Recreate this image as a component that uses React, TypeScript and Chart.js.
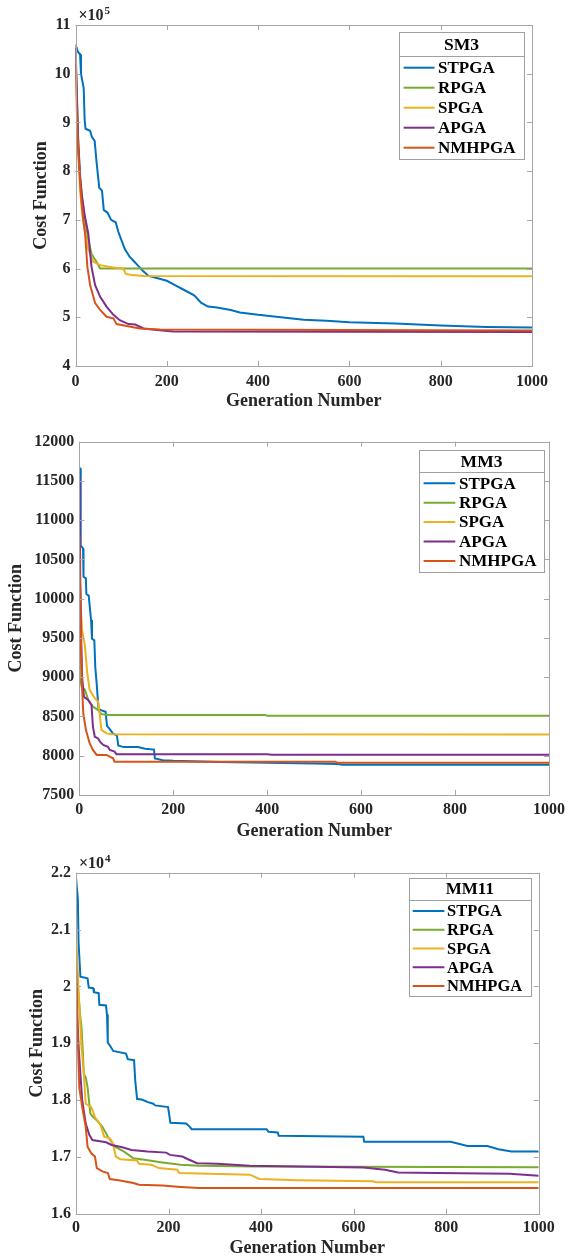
import React, { useEffect, useRef } from "react";
import { Chart, registerables } from "chart.js";

Chart.register(...registerables);

// ---------------- DATA ----------------
const SERIES_NAMES = ["STPGA", "RPGA", "SPGA", "APGA", "NMHPGA"];
const SERIES_COLORS = ["#0072BD", "#77AC30", "#EDB120", "#7E2F8E", "#D95319"];

const X_TICKS_MAX = 1000;
const X_TICK_STEP = 200;

// Panel 1: SM3 (values in raw units, axis shows x10^5)
const SM3_STPGA: [number, number][] = [
  [0, 10.5e5], [3, 10.52e5], [5, 10.45e5], [10, 10.4e5], [12, 10.0e5], [18, 9.7e5], [20, 9.05e5],
  [22, 8.87e5], [32, 8.83e5], [36, 8.7e5], [42, 8.62e5], [46, 8.2e5], [52, 7.66e5], [58, 7.6e5],
  [62, 7.2e5], [70, 7.15e5], [78, 7.0e5], [88, 6.95e5], [94, 6.75e5], [100, 6.6e5], [108, 6.4e5],
  [118, 6.25e5], [128, 6.15e5], [138, 6.05e5], [148, 5.95e5], [160, 5.85e5], [180, 5.8e5],
  [200, 5.75e5], [220, 5.65e5], [240, 5.55e5], [260, 5.45e5], [275, 5.3e5], [290, 5.22e5],
  [310, 5.2e5], [340, 5.15e5], [360, 5.1e5], [400, 5.05e5], [450, 5.0e5], [500, 4.95e5],
  [550, 4.93e5], [600, 4.9e5], [700, 4.87e5], [800, 4.83e5], [900, 4.8e5], [1000, 4.79e5],
];
const SM3_RPGA: [number, number][] = [
  [0, 10.5e5], [3, 9.5e5], [6, 8.6e5], [10, 7.9e5], [15, 7.4e5], [21, 7.0e5], [28, 6.6e5],
  [35, 6.3e5], [46, 6.14e5], [54, 6.0e5], [1000, 6.0e5],
];
const SM3_SPGA: [number, number][] = [
  [0, 10.5e5], [3, 9.3e5], [6, 8.4e5], [10, 7.6e5], [15, 7.1e5], [21, 6.75e5], [28, 6.4e5],
  [39, 6.14e5], [54, 6.07e5], [83, 6.02e5], [105, 6.0e5], [110, 5.89e5], [124, 5.87e5],
  [149, 5.85e5], [1000, 5.84e5],
];
const SM3_APGA: [number, number][] = [
  [0, 10.6e5], [3, 9.6e5], [6, 8.6e5], [10, 7.9e5], [14, 7.5e5], [20, 7.1e5], [28, 6.72e5],
  [35, 6.04e5], [43, 5.66e5], [54, 5.42e5], [68, 5.22e5], [83, 5.05e5], [97, 4.94e5],
  [116, 4.86e5], [131, 4.85e5], [149, 4.77e5], [178, 4.74e5], [214, 4.71e5], [1000, 4.7e5],
];
const SM3_NMHPGA: [number, number][] = [
  [0, 10.2e5], [3, 9.2e5], [6, 8.4e5], [10, 7.8e5], [13, 7.4e5], [17, 7.0e5], [21, 6.72e5],
  [26, 6.04e5], [32, 5.66e5], [43, 5.29e5], [54, 5.15e5], [68, 5.01e5], [83, 4.98e5],
  [90, 4.86e5], [112, 4.82e5], [141, 4.77e5], [185, 4.75e5], [1000, 4.73e5],
];

// Panel 2: MM3
const MM3_STPGA: [number, number][] = [
  [0, 11660], [2, 11660], [3, 10680], [8, 10640], [9, 10280], [14, 10260], [15, 10060],
  [20, 10040], [25, 9730], [27, 9490], [32, 9470], [34, 9130], [37, 8920], [39, 8750],
  [41, 8600], [46, 8580], [56, 8560], [59, 8380], [66, 8330], [72, 8280], [80, 8260],
  [83, 8130], [94, 8110], [125, 8110], [140, 8090], [159, 8078], [161, 7965], [178, 7942],
  [200, 7935], [300, 7920], [500, 7900], [550, 7895], [560, 7885], [1000, 7885],
];
const MM3_RPGA: [number, number][] = [
  [0, 10000], [1, 9000], [5, 8880], [12, 8840], [19, 8710], [29, 8625], [40, 8582],
  [47, 8530], [60, 8520], [395, 8520], [400, 8510], [1000, 8510],
];
const MM3_SPGA: [number, number][] = [
  [0, 10500], [3, 9900], [6, 9600], [10, 9470], [12, 9400], [17, 9050], [22, 8840],
  [33, 8730], [40, 8690], [44, 8500], [47, 8330], [58, 8285], [70, 8275], [1000, 8272],
];
const MM3_APGA: [number, number][] = [
  [0, 11550], [1, 11100], [2, 10300], [4, 9500], [6, 9000], [10, 8750], [19, 8710],
  [26, 8646], [29, 8370], [33, 8242], [40, 8220], [44, 8180], [51, 8137], [61, 8115],
  [65, 8073], [75, 8052], [79, 8020], [400, 8020], [410, 8012], [1000, 8012],
];
const MM3_NMHPGA: [number, number][] = [
  [0, 10800], [2, 10000], [4, 9300], [6, 8850], [8.5, 8540], [14, 8330], [22, 8160],
  [29, 8075], [37, 8010], [58, 8010], [65, 7990], [72, 7967], [75, 7925], [545, 7925],
  [550, 7910], [1000, 7910],
];

// Panel 3: MM11 (raw units, axis shows x10^4)
const MM11_STPGA: [number, number][] = [
  [0, 21913], [2, 21913], [4, 21536], [5.5, 20782], [9.5, 20172], [25, 20143], [27.6, 19981],
  [37, 19970], [38.7, 19900], [49, 19882], [50.5, 19679], [64.7, 19667], [67, 19505],
  [68.7, 19012], [72.6, 18971], [80.5, 18867], [108, 18820], [112, 18722], [125.5, 18704],
  [128, 18344], [132, 18025], [143.6, 18008], [155.5, 17967], [167, 17938], [171, 17909],
  [199, 17880], [204, 17602], [238, 17590], [246, 17532], [250, 17491], [412, 17491],
  [416, 17445], [436, 17433], [438, 17375], [621, 17358], [623, 17271], [810, 17271],
  [846, 17195], [889, 17195], [913, 17137], [941, 17097], [1000, 17097],
];
const MM11_RPGA: [number, number][] = [
  [0, 20600], [5, 19900], [9, 19500], [12, 19273], [15, 18809], [17, 18460], [21, 18402],
  [25, 18228], [31, 17764], [37, 17706], [45, 17648], [57, 17532], [69, 17358], [84, 17184],
  [104, 17097], [124, 16981], [148, 16952], [187, 16905], [226, 16865], [266, 16847],
  [384, 16836], [1000, 16824],
];
const MM11_SPGA: [number, number][] = [
  [0, 21000], [5.5, 19911], [12, 18925], [17, 18460], [21, 17938], [33, 17880], [41, 17706],
  [53, 17561], [61, 17358], [73, 17329], [80, 17242], [86, 17010], [96, 16963], [132, 16940],
  [136, 16882], [163, 16865], [179, 16807], [219, 16778], [223, 16720], [376, 16691],
  [396, 16615], [479, 16592], [641, 16574], [649, 16557], [1000, 16557],
];
const MM11_APGA: [number, number][] = [
  [0, 20100], [3, 19400], [6, 18900], [9.5, 18460], [13.4, 18000], [21, 17590], [29, 17387],
  [35.5, 17300], [65, 17260], [77, 17213], [100, 17172], [120, 17126], [155, 17097],
  [195, 17079], [203, 17039], [230, 17010], [242, 16963], [262, 16894], [305, 16882],
  [376, 16847], [621, 16818], [668, 16778], [696, 16731], [779, 16720], [937, 16708],
  [1000, 16673],
];
const MM11_NMHPGA: [number, number][] = [
  [0, 20550], [4, 19041], [7, 18228], [13.4, 17880], [21, 17532], [25, 17184], [33, 17068],
  [41, 17010], [45, 16807], [57, 16749], [69, 16720], [73, 16615], [92, 16592], [124, 16545],
  [136, 16516], [187, 16499], [226, 16476], [266, 16458], [1000, 16458],
];

// Axis ranges / tick labels
const SM3_Y = { min: 4e5, max: 11e5, step: 1e5, divisor: 1e5, exponent: "5" };
const MM3_Y = { min: 7500, max: 12000, step: 500, divisor: 1, exponent: "" };
const MM11_Y = { min: 16000, max: 22000, step: 1000, divisor: 1e4, exponent: "4" };

const X_TITLE = "Generation Number";
const Y_TITLE = "Cost Function";

// ---------------- STYLE / LAYOUT ----------------
const FONT = "'Liberation Serif', 'Times New Roman', serif";
const TEXT_COLOR = "#262626";
const BOX_COLOR = "#a6a6a6";
const W = 570;
const H = 420;

type Panel = {
  top: number;
  title: string;
  series: [number, number][][];
  y: { min: number; max: number; step: number; divisor: number; exponent: string };
  area: { left: number; right: number; top: number; bottom: number };
  xLabelPad: number;
  xTitlePad: number;
  yTitlePad: number;
  legend: {
    x0: number; y0: number; w: number; h: number; titleH: number; firstRow: number; rowH: number;
    l0: number; l1: number; tx: number; font: number;
  };
};

const PANELS: Panel[] = [
  {
    top: 0, title: "SM3",
    series: [SM3_STPGA, SM3_RPGA, SM3_SPGA, SM3_APGA, SM3_NMHPGA],
    y: SM3_Y,
    area: { left: 75.5, right: 532, top: 25, bottom: 366 },
    xLabelPad: 6, xTitlePad: 10, yTitlePad: 32,
    legend: { x0: 399, y0: 32.3, w: 125, h: 127, titleH: 23.4, firstRow: 12, rowH: 20, l0: 4.6, l1: 35.5, tx: 39, font: 17 },
  },
  {
    top: 420, title: "MM3",
    series: [MM3_STPGA, MM3_RPGA, MM3_SPGA, MM3_APGA, MM3_NMHPGA],
    y: MM3_Y,
    area: { left: 79.3, right: 552, top: 21.7, bottom: 375 },
    xLabelPad: 5, xTitlePad: 0, yTitlePad: 7,
    legend: { x0: 419, y0: 30, w: 125, h: 121.7, titleH: 22.3, firstRow: 11, rowH: 19.4, l0: 4.6, l1: 36.3, tx: 40, font: 17 },
  },
  {
    top: 840, title: "MM11",
    series: [MM11_STPGA, MM11_RPGA, MM11_SPGA, MM11_APGA, MM11_NMHPGA],
    y: MM11_Y,
    area: { left: 76, right: 538.7, top: 32.7, bottom: 374 },
    xLabelPad: 4, xTitlePad: 3, yTitlePad: 28.3,
    legend: { x0: 408.7, y0: 37.7, w: 122.3, h: 118.3, titleH: 22.6, firstRow: 10.7, rowH: 18.75, l0: 4, l1: 35.7, tx: 38.3, font: 16.5 },
  },
];

const matlabFrame = {
  id: "matlabFrame",
  afterDatasetsDraw(chart: any, _args: any, opts: any) {
    const { ctx, chartArea: a, scales } = chart;
    const r = (v: number) => Math.round(v) + 0.5;
    ctx.save();
    // box + inward ticks
    ctx.strokeStyle = BOX_COLOR;
    ctx.lineWidth = 1;
    ctx.strokeRect(r(a.left), r(a.top), Math.round(a.right) - Math.round(a.left), Math.round(a.bottom) - Math.round(a.top));
    const tl = 5;
    ctx.beginPath();
    scales.x.ticks.forEach((t: any) => {
      const px = r(scales.x.getPixelForValue(t.value));
      ctx.moveTo(px, a.bottom); ctx.lineTo(px, a.bottom - tl);
      ctx.moveTo(px, a.top); ctx.lineTo(px, a.top + tl);
    });
    scales.y.ticks.forEach((t: any) => {
      const py = r(scales.y.getPixelForValue(t.value));
      ctx.moveTo(a.left, py); ctx.lineTo(a.left + tl, py);
      ctx.moveTo(a.right, py); ctx.lineTo(a.right - tl, py);
    });
    ctx.stroke();

    // exponent label
    if (opts.exponent) {
      ctx.fillStyle = TEXT_COLOR;
      ctx.textBaseline = "alphabetic";
      ctx.textAlign = "left";
      ctx.font = `bold 16px ${FONT}`;
      const bx = a.left + 3;
      const by = a.top - 5;
      ctx.fillText("\u00d710", bx, by);
      const w = ctx.measureText("\u00d710").width;
      ctx.font = `bold 11px ${FONT}`;
      ctx.fillText(opts.exponent, bx + w + 1, by - 6);
    }

    // legend box
    const L = opts.legend;
    ctx.fillStyle = "#ffffff";
    ctx.fillRect(L.x0, L.y0, L.w, L.h);
    ctx.strokeStyle = "#a0a0a0";
    ctx.strokeRect(r(L.x0), r(L.y0), Math.round(L.w), Math.round(L.h));
    ctx.beginPath();
    ctx.moveTo(L.x0, r(L.y0 + L.titleH));
    ctx.lineTo(L.x0 + L.w, r(L.y0 + L.titleH));
    ctx.stroke();
    ctx.fillStyle = "#000";
    ctx.font = `bold ${L.font + 0.5}px ${FONT}`;
    ctx.textAlign = "center";
    ctx.textBaseline = "middle";
    ctx.fillText(opts.title, L.x0 + L.w / 2, L.y0 + L.titleH / 2 + 1);
    ctx.textAlign = "left";
    ctx.font = `bold ${L.font}px ${FONT}`;
    chart.data.datasets.forEach((ds: any, i: number) => {
      const y = L.y0 + L.titleH + L.firstRow + i * L.rowH;
      ctx.strokeStyle = ds.borderColor;
      ctx.lineWidth = 2;
      ctx.beginPath();
      ctx.moveTo(L.x0 + L.l0, y);
      ctx.lineTo(L.x0 + L.l1, y);
      ctx.stroke();
      ctx.fillStyle = "#000";
      ctx.fillText(ds.label, L.x0 + L.tx, y + 1);
    });
    ctx.restore();
  },
};

function PanelChart({ panel }: { panel: Panel }) {
  const ref = useRef<HTMLCanvasElement | null>(null);
  useEffect(() => {
    if (!ref.current) return;
    const p = panel;
    const ticksFont = { family: FONT, size: 16, weight: "bold" as const };
    const titleFont = { family: FONT, size: 18, weight: "bold" as const, lineHeight: 1 };
    const chart = new Chart(ref.current, {
      type: "line",
      data: {
        datasets: p.series.map((s, i) => ({
          label: SERIES_NAMES[i],
          data: s.map(([x, y]) => ({ x, y })),
          borderColor: SERIES_COLORS[i],
          backgroundColor: SERIES_COLORS[i],
          borderWidth: 2,
          pointRadius: 0,
          tension: 0,
          fill: false,
          order: 5 - i,
        })),
      },
      options: {
        responsive: false,
        animation: false,
        devicePixelRatio: 1,
        layout: { padding: { top: p.area.top, right: W - p.area.right, left: 0, bottom: 0 } },
        plugins: {
          legend: { display: false },
          tooltip: { enabled: false },
          matlabFrame: {
            title: p.title,
            exponent: p.y.exponent,
            legend: { ...p.legend, y0: p.legend.y0 },
          },
        } as any,
        scales: {
          x: {
            type: "linear",
            min: 0,
            max: X_TICKS_MAX,
            grid: { display: false, drawTicks: false },
            border: { display: false },
            ticks: {
              stepSize: X_TICK_STEP,
              padding: p.xLabelPad,
              font: ticksFont,
              color: TEXT_COLOR,
              maxRotation: 0,
              autoSkip: false,
              callback: (v: any) => String(v),
            },
            title: {
              display: true,
              text: X_TITLE,
              font: titleFont,
              color: TEXT_COLOR,
              padding: { top: 0, bottom: p.xTitlePad },
            },
            afterFit: (s: any) => { s.height = H - p.area.bottom; },
          },
          y: {
            type: "linear",
            min: p.y.min,
            max: p.y.max,
            grid: { display: false, drawTicks: false },
            border: { display: false },
            ticks: {
              stepSize: p.y.step,
              padding: 5,
              font: ticksFont,
              color: TEXT_COLOR,
              autoSkip: false,
              callback: (v: any) => String(Math.round((Number(v) / p.y.divisor) * 1000) / 1000),
            },
            title: {
              display: true,
              text: Y_TITLE,
              font: titleFont,
              color: TEXT_COLOR,
              padding: { top: p.yTitlePad, bottom: 0 },
            },
            afterFit: (s: any) => { s.width = p.area.left; },
          },
        },
      } as any,
      plugins: [matlabFrame as any],
    });
    return () => chart.destroy();
  }, [panel]);
  return (
    <canvas
      ref={ref}
      width={W}
      height={H}
      style={{ position: "absolute", left: 0, top: panel.top, width: W, height: H, display: "block" }}
    />
  );
}

export default function App() {
  return (
    <div style={{ position: "absolute", left: 0, top: 0, width: W, height: 1260, background: "#fff" }}>
      {PANELS.map((p) => (
        <PanelChart key={p.title} panel={p} />
      ))}
    </div>
  );
}
